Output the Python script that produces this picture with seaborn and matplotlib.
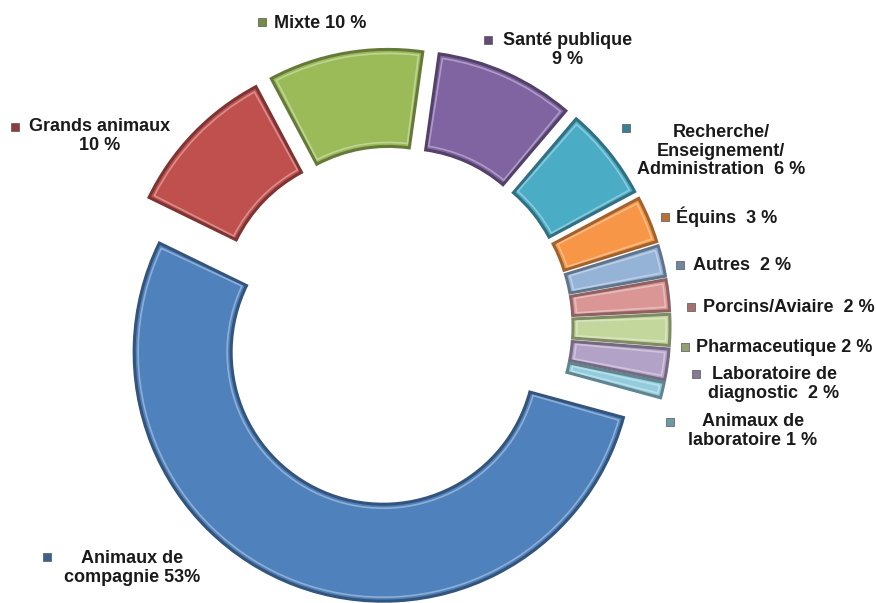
import matplotlib
matplotlib.use("Agg")
import matplotlib.pyplot as plt
import matplotlib.patches as mpatches
import seaborn as sns
from matplotlib.colors import to_rgb

# Données : secteurs dans le sens horaire à partir du haut
categories = ["Santé publique", "Recherche/Enseignement/Administration", "Équins", "Autres",
              "Porcins/Aviaire", "Pharmaceutique", "Laboratoire de diagnostic",
              "Animaux de laboratoire", "Animaux de compagnie", "Grands animaux", "Mixte"]
values = [9, 6, 3, 2, 2, 2, 2, 1, 53, 10, 10]
labels = ["Santé publique\n9 %", "Recherche/\nEnseignement/\nAdministration  6 %", "Équins  3 %",
          "Autres  2 %", "Porcins/Aviaire  2 %", "Pharmaceutique 2 %", "Laboratoire de\ndiagnostic  2 %",
          "Animaux de\nlaboratoire 1 %", "Animaux de\ncompagnie 53%", "Grands animaux\n10 %", "Mixte 10 %"]
colors = ["#8064A2", "#4BACC6", "#F79646", "#95B3D7", "#D99694", "#C3D69B",
          "#B3A2C7", "#93CDDD", "#4F81BD", "#C0504D", "#9BBB59"]

# Placement des étiquettes (pixels de l'image, y vers le bas)
text_pos = [(568, 50), (721, 151), (727, 217), (742, 265), (789, 307), (784, 347),
            (774, 384), (753, 431), (132, 568), (100, 136), (320, 24)]
marker_pos = [(488, 40), (626, 128), (665, 217), (680, 265), (691, 307), (685, 347),
              (696, 374), (670, 422), (47, 557), (15, 127), (262, 22)]

W, H = 876, 603

sns.set_theme(style="white")
plt.rcParams['font.family'] = ['Liberation Sans', 'DejaVu Sans']

fig = plt.figure(figsize=(W / 100, H / 100), dpi=100)
ax = fig.add_axes([0, 0, 1, 1])

def darker(c, f=0.65):
    r, g, b = to_rgb(c)
    return (r * f, g * f, b * f)

def lighter(c, f=0.45):
    r, g, b = to_rgb(c)
    return (r + (1 - r) * f, g + (1 - g) * f, b + (1 - b) * f)

R, ring = 249, 97
center = (393, H - 326)
wedges, _ = ax.pie(values, colors=colors, startangle=82, counterclock=False,
                   radius=R, center=center, explode=[28] * len(values),
                   wedgeprops=dict(width=ring, linewidth=2.2))

# effet de biseau : bord foncé + liseré clair à l'intérieur
for w, c in zip(wedges, colors):
    w.set_edgecolor(darker(c))
    inner = mpatches.Wedge(w.center, w.r - 4, w.theta1 + 0.9, w.theta2 - 0.9,
                           width=ring - 8, facecolor="none",
                           edgecolor=lighter(c), linewidth=1.2, alpha=0.8)
    ax.add_patch(inner)

for lab, (tx, ty), (mx, my), c in zip(labels, text_pos, marker_pos, colors):
    ax.text(tx, H - ty, lab, ha="center", va="center", fontsize=13,
            fontweight="bold", color="#1a1a1a", linespacing=1.1, multialignment="center")
    ax.scatter([mx], [H - my], marker="s", s=28, color=darker(c, 0.75),
               edgecolor="#555555", linewidth=0.5, zorder=5)

ax.set_xlim(0, W)
ax.set_ylim(0, H)
ax.set_aspect("equal")
ax.axis("off")

fig.savefig("out.png", dpi=100, facecolor="white")
